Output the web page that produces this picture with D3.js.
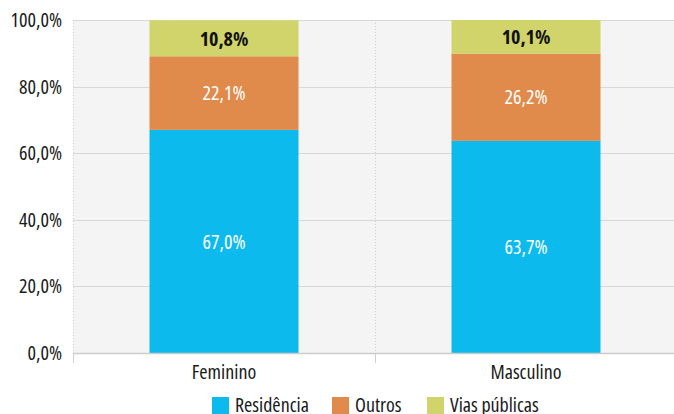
<!DOCTYPE html>
<html>
<head>
<meta charset="utf-8">
<script src="https://cdn.jsdelivr.net/npm/d3@7/dist/d3.min.js"></script>
<style>
  html, body { margin: 0; padding: 0; background: #fff; }
  svg { display: block; }
  svg text { font-family: "Open Sans", "DejaVu Sans Condensed", sans-serif; font-stretch: 75%; }
</style>
</head>
<body>
<svg id="chart" width="674" height="414"></svg>
<script>
// Local de ocorrência por sexo (%)
const categories = ["Feminino", "Masculino"];
const seriesNames = ["Residência", "Outros", "Vias públicas"];
const residencia = [67.0, 63.7];
const outros = [22.1, 26.2];
const viasPublicas = [10.8, 10.1];
const yTicks = [0, 20, 40, 60, 80, 100];

const colors = ["#0dbaee", "#e08a4b", "#d0d46a"];
const labelColors = ["#ffffff", "#ffffff", "#111111"];

const svg = d3.select("#chart");
const margin = { top: 20, right: -3, bottom: 61, left: 73 };
const W = 674, H = 414;
const innerW = W - margin.left - margin.right;
const innerH = H - margin.top - margin.bottom;
const fontSize = 20;

const g = svg.append("g").attr("transform", `translate(${margin.left},${margin.top})`);

const x = d3.scaleBand().domain(categories).range([0, innerW]).paddingInner(0).paddingOuter(0);
const y = d3.scaleLinear().domain([0, 100]).range([innerH, 0]);
const pct = v => d3.format(".1f")(v).replace(".", ",") + "%";

// plot background
g.append("rect").attr("x", 0).attr("y", 0).attr("width", innerW).attr("height", innerH).attr("fill", "#f4f4f4");

// horizontal gridlines
g.selectAll(".grid").data(yTicks).enter().append("line")
  .attr("x1", 0).attr("x2", innerW)
  .attr("y1", d => Math.round(y(d)) + 0.5).attr("y2", d => Math.round(y(d)) + 0.5)
  .attr("stroke", "#d8d8d8").attr("stroke-width", 1);

// dotted category separators with ticks below the baseline
categories.forEach(c => {
  const xx = Math.round(x(c)) + 0.5;
  g.append("line").attr("x1", xx).attr("x2", xx).attr("y1", 0).attr("y2", innerH)
    .attr("stroke", "#cfcfcf").attr("stroke-dasharray", "1,2");
  g.append("line").attr("x1", xx).attr("x2", xx).attr("y1", innerH).attr("y2", innerH + 10)
    .attr("stroke", "#cfcfcf");
});

// stacked bars
const rows = categories.map((c, i) => ({ cat: c, "Residência": residencia[i], "Outros": outros[i], "Vias públicas": viasPublicas[i] }));
const stack = d3.stack().keys(seriesNames)(rows);
const barW = 149;
const off = (x.bandwidth() - barW) / 2;

stack.forEach((layer, si) => {
  const lg = g.append("g");
  lg.selectAll("rect").data(layer).enter().append("rect")
    .attr("x", d => x(d.data.cat) + off)
    .attr("width", barW)
    .attr("y", d => y(d[1]))
    .attr("height", d => y(d[0]) - y(d[1]))
    .attr("fill", colors[si]);
  lg.selectAll("text").data(layer).enter().append("text")
    .attr("x", d => x(d.data.cat) + x.bandwidth() / 2)
    .attr("y", d => (y(d[0]) + y(d[1])) / 2)
    .attr("dy", "0.36em")
    .attr("text-anchor", "middle")
    .attr("font-size", fontSize)
    .attr("font-weight", si === 2 ? 700 : 500)
    .attr("fill", labelColors[si])
    .text(d => pct(d[1] - d[0]));
});

// baseline
g.append("line").attr("x1", 0).attr("x2", innerW).attr("y1", innerH + 0.5).attr("y2", innerH + 0.5)
  .attr("stroke", "#cccccc").attr("stroke-width", 1.5);

// y axis labels
const yAxis = d3.axisLeft(y).tickValues(yTicks).tickSize(0).tickPadding(11).tickFormat(pct);
const ya = g.append("g").call(yAxis);
ya.select(".domain").remove();
ya.selectAll("text").attr("font-size", fontSize).attr("font-weight", 500).attr("fill", "#1a1a1a")
  .style("font-family", "'Open Sans', sans-serif");

// x axis labels
const xAxis = d3.axisBottom(x).tickSize(0).tickPadding(12);
const xa = g.append("g").attr("transform", `translate(0,${innerH})`).call(xAxis);
xa.select(".domain").remove();
xa.selectAll("text").attr("font-size", fontSize).attr("font-weight", 500).attr("fill", "#1a1a1a")
  .style("font-family", "'Open Sans', sans-serif");

// legend
const legendX = [212, 332, 427];
const legend = svg.append("g");
seriesNames.forEach((name, i) => {
  legend.append("rect").attr("x", legendX[i]).attr("y", 397).attr("width", 17).attr("height", 17).attr("fill", colors[i]);
  legend.append("text").attr("x", legendX[i] + 23).attr("y", 405).attr("dy", "0.36em")
    .attr("font-size", fontSize).attr("font-weight", 500).attr("fill", "#1a1a1a").text(name);
});
</script>
</body>
</html>
